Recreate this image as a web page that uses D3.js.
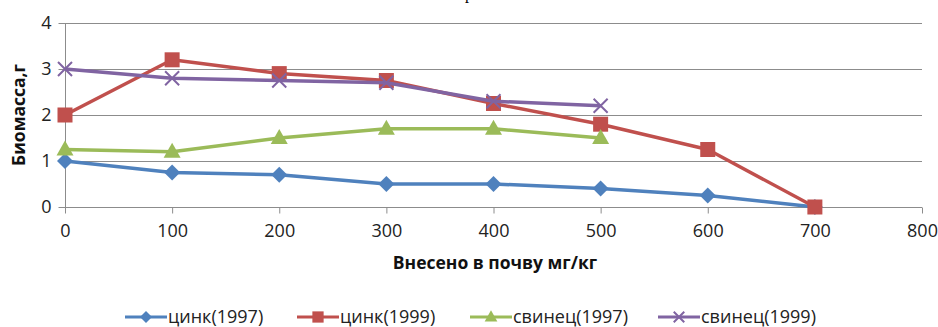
<!DOCTYPE html>
<html>
<head>
<meta charset="utf-8">
<script src="https://cdn.jsdelivr.net/npm/d3@7"></script>
<style>
  html, body { margin: 0; padding: 0; background: #fff; }
  svg { display: block; }
</style>
</head>
<body>
<svg id="chart" width="938" height="327"></svg>
<script>
// Доза внесения, мг/кг
const doses = [0, 100, 200, 300, 400, 500, 600, 700];
// Биомасса, г
const zinc1997 = [1.0, 0.75, 0.7, 0.5, 0.5, 0.4, 0.25, 0.0];
const zinc1999 = [2.0, 3.2, 2.9, 2.75, 2.25, 1.8, 1.25, 0.0];
const lead1997 = [1.25, 1.2, 1.5, 1.7, 1.7, 1.5];
const lead1999 = [3.0, 2.8, 2.75, 2.7, 2.3, 2.2];
const seriesNames = ["цинк(1997)", "цинк(1999)", "свинец(1997)", "свинец(1999)"];
const xTicks = [0, 100, 200, 300, 400, 500, 600, 700, 800];
const yTicks = [0, 1, 2, 3, 4];

const colors = ["#4F81BD", "#C0504D", "#9BBB59", "#8064A2"];
const symbols = ["diamond", "square", "triangle", "cross"];
const seriesValues = [zinc1997, zinc1999, lead1997, lead1999];
const series = seriesNames.map((name, i) => ({
  name, color: colors[i], symbol: symbols[i],
  points: seriesValues[i].map((v, j) => ({ x: doses[j], y: v }))
}));

const svg = d3.select("#chart");
const font = "'Open Sans', Lato, sans-serif";

const x = d3.scaleLinear().domain([0, 800]).range([65, 922]);
const y = d3.scaleLinear().domain([0, 4]).range([207, 23]);

// Фрагмент заголовка сверху
svg.append("text")
  .attr("x", 469).attr("y", -1)
  .attr("text-anchor", "middle")
  .attr("font-family", "'Liberation Serif', serif")
  .attr("font-size", 16)
  .attr("fill", "#000")
  .text("р");

// Горизонтальная сетка
svg.append("g")
  .selectAll("line")
  .data(yTicks.filter(d => d > 0))
  .join("line")
  .attr("x1", x(0)).attr("x2", x(800))
  .attr("y1", d => y(d) + 0.5).attr("y2", d => y(d) + 0.5)
  .attr("stroke", "#8c8c8c").attr("stroke-width", 1);

// Ось Y
const yAxis = svg.append("g")
  .attr("transform", `translate(${x(0) + 0.5},0)`)
  .call(d3.axisLeft(y).tickValues(yTicks).tickSize(7).tickPadding(7).tickFormat(d3.format("d")));
yAxis.select(".domain").attr("stroke", "#8c8c8c").attr("d", `M0,${y(4)}V${y(0)}`);
yAxis.selectAll(".tick line").attr("stroke", "#8c8c8c");
yAxis.selectAll(".tick text")
  .attr("font-family", font).attr("font-size", 18).attr("fill", "#222");

// Ось X
const xAxis = svg.append("g")
  .attr("transform", `translate(0,${y(0) + 0.5})`)
  .call(d3.axisBottom(x).tickValues(xTicks).tickSize(6).tickPadding(11).tickFormat(d3.format("d")));
xAxis.select(".domain").attr("stroke", "#8c8c8c").attr("d", `M${x(0)},0H${x(800)}`);
xAxis.selectAll(".tick line").attr("stroke", "#8c8c8c");
xAxis.selectAll(".tick text")
  .attr("font-family", font).attr("font-size", 18).attr("fill", "#222");

// Подписи осей
svg.append("text")
  .attr("transform", `translate(25,${y(2)}) rotate(-90)`)
  .attr("text-anchor", "middle")
  .attr("font-family", font).attr("font-weight", "bold").attr("font-size", 17.5)
  .attr("fill", "#111")
  .text("Биомасса,г");

svg.append("text")
  .attr("x", 495).attr("y", 269)
  .attr("text-anchor", "middle")
  .attr("font-family", font).attr("font-weight", "bold").attr("font-size", 17.5)
  .attr("fill", "#111")
  .text("Внесено в почву мг/кг");

// Маркеры
function marker(sel, s, scale) {
  const k = scale || 1;
  if (s.symbol === "diamond") {
    sel.append("path").attr("d", `M0,${-8*k}L${8*k},0L0,${8*k}L${-8*k},0Z`).attr("fill", s.color);
  } else if (s.symbol === "square") {
    sel.append("rect").attr("x", -7.5*k).attr("y", -7.5*k).attr("width", 15*k).attr("height", 15*k).attr("fill", s.color);
  } else if (s.symbol === "triangle") {
    sel.append("path").attr("d", `M0,${-9*k}L${8.5*k},${6*k}L${-8.5*k},${6*k}Z`).attr("fill", s.color);
  } else {
    sel.append("path").attr("d", `M${-7*k},${-7*k}L${7*k},${7*k}M${7*k},${-7*k}L${-7*k},${7*k}`)
      .attr("stroke", s.color).attr("stroke-width", 2).attr("fill", "none");
  }
}

const line = d3.line().x(d => x(d.x)).y(d => y(d.y));

series.forEach(s => {
  const g = svg.append("g");
  g.append("path")
    .datum(s.points)
    .attr("d", line)
    .attr("fill", "none")
    .attr("stroke", s.color)
    .attr("stroke-width", 3.5)
    .attr("stroke-linejoin", "round");
  g.selectAll("g.pt")
    .data(s.points)
    .join("g")
    .attr("class", "pt")
    .attr("transform", d => `translate(${x(d.x)},${y(d.y)})`)
    .each(function() { marker(d3.select(this), s); });
});

// Легенда
const legendX = [125, 297, 470, 658];
const legendY = 317;
series.forEach((s, i) => {
  const g = svg.append("g").attr("transform", `translate(${legendX[i]},${legendY})`);
  g.append("line").attr("x1", 0).attr("x2", 42).attr("y1", 0).attr("y2", 0)
    .attr("stroke", s.color).attr("stroke-width", 3);
  const m = g.append("g").attr("transform", "translate(21,0)");
  marker(m, s, 0.75);
  g.append("text")
    .attr("x", 43).attr("y", 5.5)
    .attr("font-family", font).attr("font-size", 18).attr("fill", "#222")
    .text(s.name);
});
</script>
</body>
</html>
